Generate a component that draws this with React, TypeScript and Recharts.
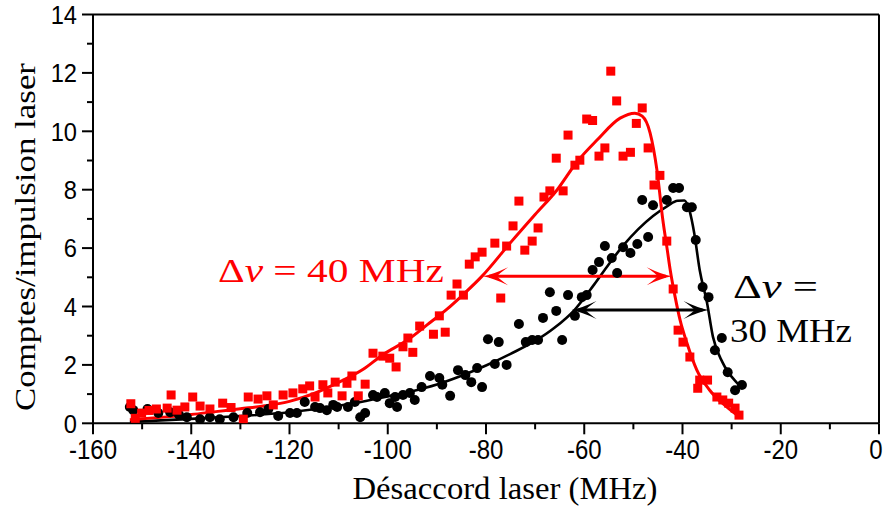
import React from 'react';
import { ComposedChart, Scatter, Line, XAxis, YAxis, ReferenceLine } from 'recharts';

// ---- Data ----
const xTicks = [-160, -150, -140, -130, -120, -110, -100, -90, -80, -70, -60, -50, -40, -30, -20, -10, 0];
const yTicks = [0, 1, 2, 3, 4, 5, 6, 7, 8, 9, 10, 11, 12, 13, 14];

const xTitle = 'Désaccord laser (MHz)';
const yTitle = 'Comptes/impulsion laser';

// red squares: detuning (MHz), counts per pulse
const redX = [-152.3, -151.4, -150.1, -148.6, -147.1, -144.9, -144.1, -142.9, -141.3, -139.7, -138.2, -136.2, -133.6, -131.9, -129.4, -128.4, -126.4, -124.6, -123.3, -121.3, -119.3, -117.3, -115.9, -114.8, -113.2, -112.2, -110.7, -109.3, -108.3, -107.3, -106.0, -104.6, -103.0, -101.0, -99.6, -98.3, -96.9, -95.9, -94.9, -93.5, -90.7, -89.5, -88.3, -87.1, -85.9, -84.6, -83.4, -82.2, -80.8, -78.2, -77.0, -75.8, -74.5, -73.3, -72.1, -70.6, -69.4, -68.2, -67.0, -65.7, -64.3, -63.3, -61.9, -60.9, -59.5, -58.3, -57.0, -55.8, -54.6, -53.4, -52.1, -50.6, -49.4, -48.2, -47.0, -45.8, -44.6, -43.2, -41.9, -40.9, -39.9, -38.5, -36.9, -36.5, -34.9, -33.0, -31.8, -30.6, -29.3, -28.5];
const redY = [0.67, 0.17, 0.35, 0.44, 0.49, 0.52, 0.97, 0.45, 0.56, 0.9, 0.59, 0.49, 0.69, 0.54, 0.14, 0.9, 0.83, 0.94, 0.63, 0.97, 1.04, 1.18, 1.28, 0.9, 1.32, 1.04, 1.41, 0.94, 1.37, 1.62, 0.94, 1.34, 2.4, 2.3, 2.23, 1.93, 2.62, 2.92, 2.43, 3.33, 3.05, 3.68, 3.12, 4.39, 4.77, 4.39, 5.45, 5.7, 5.86, 6.17, 4.29, 6.07, 6.76, 7.61, 5.93, 6.24, 6.69, 7.75, 7.96, 9.08, 7.96, 9.87, 8.84, 9.01, 10.42, 10.37, 9.15, 9.43, 12.06, 11.04, 9.15, 9.28, 10.27, 10.8, 9.43, 8.16, 8.49, 6.24, 4.6, 3.19, 2.78, 2.27, 1.2, 1.48, 1.48, 0.9, 0.8, 0.69, 0.52, 0.28];

// black circles
const blackX = [-152.5, -151.8, -148.9, -146.7, -144.3, -142.5, -140.9, -138.2, -136.2, -134.2, -131.4, -128.6, -126.0, -124.3, -122.3, -119.9, -118.5, -116.9, -114.8, -113.8, -112.4, -111.1, -110.3, -108.1, -106.7, -105.6, -104.6, -103.0, -102.2, -100.6, -99.6, -98.5, -98.1, -96.9, -95.5, -94.5, -93.1, -91.4, -89.5, -88.9, -87.3, -85.7, -84.2, -83.0, -81.8, -80.8, -79.6, -78.2, -77.4, -75.8, -73.3, -71.9, -70.6, -69.4, -68.4, -67.0, -65.7, -64.5, -63.3, -61.9, -60.5, -59.5, -58.3, -57.0, -55.8, -54.4, -53.3, -52.1, -50.6, -49.2, -48.2, -47.0, -46.0, -43.2, -41.9, -40.7, -39.1, -38.1, -37.3, -35.9, -34.7, -33.4, -32.0, -30.8, -29.3, -27.9];
const blackY = [0.56, 0.45, 0.49, 0.35, 0.38, 0.29, 0.21, 0.14, 0.21, 0.14, 0.21, 0.35, 0.38, 0.49, 0.25, 0.35, 0.35, 0.73, 0.56, 0.52, 0.45, 0.63, 0.56, 0.56, 0.73, 0.21, 0.35, 0.97, 0.9, 1.04, 0.69, 0.9, 0.56, 0.97, 1.04, 0.8, 1.24, 1.62, 1.55, 1.32, 0.94, 1.82, 1.65, 1.41, 1.89, 1.24, 2.88, 2.03, 2.78, 2.0, 3.4, 2.78, 2.85, 2.85, 3.61, 4.49, 3.85, 2.85, 4.39, 3.68, 4.32, 4.39, 5.25, 5.52, 6.07, 5.66, 5.15, 6.03, 5.83, 6.14, 7.65, 6.38, 7.47, 7.65, 8.06, 8.06, 7.4, 7.4, 6.28, 4.67, 4.32, 2.5, 2.92, 1.75, 1.13, 1.31];

// fitted curves
const redFitX = [-152.5, -145, -140, -135, -130, -125, -120, -115, -110, -105, -101, -96, -92, -88, -84.7, -80.8, -75.1, -70, -65.5, -61.5, -57.4, -52.7, -49.7, -48.2, -46.6, -45.2, -44, -43.1, -42.5, -41.5, -40.5, -39.1, -37.1, -34.5, -31, -28.1];
const redFitY = [0.12, 0.22, 0.3, 0.4, 0.5, 0.6, 0.75, 1.02, 1.4, 1.85, 2.35, 2.85, 3.37, 3.9, 4.4, 5.04, 6.17, 7.15, 8.0, 8.95, 9.7, 10.45, 10.62, 10.52, 9.95, 8.67, 6.96, 5.94, 5.25, 4.33, 3.54, 2.75, 1.83, 1.14, 0.56, 0.18];

const blackFitX = [-152.5, -140, -130, -120, -110, -100, -95, -90, -85, -80, -75, -70, -66, -62, -58, -55, -52, -49, -46, -43, -41, -39.6, -38.6, -37.6, -36.5, -35, -33.8, -31.8, -28.9, -28.2];
const blackFitY = [0.05, 0.15, 0.25, 0.38, 0.6, 0.92, 1.1, 1.33, 1.63, 1.98, 2.38, 2.82, 3.28, 3.88, 4.75, 5.45, 6.1, 6.65, 7.1, 7.45, 7.62, 7.63, 7.3, 6.5, 5.25, 4.12, 2.96, 2.07, 1.38, 1.25];

// FWHM arrows
const redArrowX = [-80.6, -42.2];
const redArrowY = 5.04;
const blackArrowX = [-62.6, -34.7];
const blackArrowY = 3.88;

const redLabel = '40 MHz';
const blackLabel = '30 MHz';

// ---- build series ----
const toPts = (xs: number[], ys: number[]) => xs.map((x, i) => ({ x, y: ys[i] }));
const redPts = toPts(redX, redY);
const blackPts = toPts(blackX, blackY);
const redFit = toPts(redFitX, redFitY);
const blackFit = toPts(blackFitX, blackFitY);

const RED = '#ff0000';
const SANS = "'Liberation Sans', Arial, sans-serif";
const SERIF = "'Liberation Serif', 'Times New Roman', serif";

const XTick = (props: any) => {
  const { x, y, payload } = props;
  const v = payload.value;
  const major = v % 20 === 0;
  const tx = v === 0 ? x - 3 : x;
  return (
    <g>
      <line x1={x} x2={x} y1={y} y2={y + (major ? 11 : 6)} stroke="#000" strokeWidth={2} />
      {major && (
        <text
          transform={`translate(${tx},${y + 36}) scale(0.96,1.14)`}
          textAnchor="middle"
          fontFamily={SANS}
          fontSize={25}
          fill="#000"
        >
          {String(v)}
        </text>
      )}
    </g>
  );
};

const YTick = (props: any) => {
  const { x, y, payload } = props;
  const v = payload.value;
  const major = v % 2 === 0;
  return (
    <g>
      <line x1={x} x2={x - (major ? 11 : 6)} y1={y} y2={y} stroke="#000" strokeWidth={2} />
      {major && (
        <text
          transform={`translate(${x - 16},${y + 9.2}) scale(1.03,1.12)`}
          textAnchor="end"
          fontFamily={SANS}
          fontSize={23}
          fill="#000"
        >
          {String(v)}
        </text>
      )}
    </g>
  );
};

const head = (t: number, y: number, dir: number, L: number, W: number) => {
  const p = (a: number) => t - dir * a;
  return `M ${t} ${y} Q ${p(0.4 * L)} ${y - 0.1 * W} ${p(L)} ${y - W / 2} Q ${p(0.62 * L)} ${y - 0.12 * W} ${p(0.55 * L)} ${y} Q ${p(0.62 * L)} ${y + 0.12 * W} ${p(L)} ${y + W / 2} Q ${p(0.4 * L)} ${y + 0.1 * W} ${t} ${y} Z`;
};

const arrowShape = (color: string) => (p: any) => {
  const { x1, y1, x2 } = p;
  const left = Math.min(x1, x2);
  const right = Math.max(x1, x2);
  const y = y1;
  return (
    <g>
      <line x1={left + 6} x2={right - 6} y1={y} y2={y} stroke={color} strokeWidth={3} />
      <path d={head(right, y, 1, 25, 18)} fill={color} />
      <path d={head(left, y, -1, 25, 18)} fill={color} />
    </g>
  );
};

const square = (p: any) => (
  <rect x={p.cx - 4.5} y={p.cy - 4.5} width={9} height={9} fill={RED} />
);
const circle = (p: any) => <circle cx={p.cx} cy={p.cy} r={5} fill="#000" />;

export default function App() {
  const W = 884;
  const H = 509;
  return (
    <div style={{ position: 'absolute', left: 0, top: 0, width: W, height: H }}>
      <ComposedChart width={W} height={H} margin={{ top: 14.5, right: 5, left: 0, bottom: 0 }}>
        <XAxis
          type="number"
          dataKey="x"
          domain={[-160, 0]}
          ticks={xTicks}
          interval={0}
          allowDataOverflow
          height={85.7}
          tickSize={0}
          tickMargin={0}
          tickLine={false}
          axisLine={{ stroke: '#000', strokeWidth: 2 }}
          tick={<XTick />}
        />
        <YAxis
          type="number"
          dataKey="y"
          domain={[0, 14]}
          ticks={yTicks}
          interval={0}
          allowDataOverflow
          width={93}
          tickSize={0}
          tickMargin={0}
          tickLine={false}
          axisLine={{ stroke: '#000', strokeWidth: 2 }}
          tick={<YTick />}
        />
        <ReferenceLine y={14} stroke="#000" strokeWidth={2} />
        <ReferenceLine x={0} stroke="#000" strokeWidth={2} />
        <Scatter data={blackPts} dataKey="y" shape={circle} isAnimationActive={false} />
        <Line data={blackFit} dataKey="y" type="monotone" stroke="#000" strokeWidth={2.6} dot={false} activeDot={false} isAnimationActive={false} />
        <Scatter data={redPts} dataKey="y" shape={square} isAnimationActive={false} />
        <Line data={redFit} dataKey="y" type="monotone" stroke={RED} strokeWidth={3} dot={false} activeDot={false} isAnimationActive={false} />
        <ReferenceLine
          segment={[{ x: redArrowX[0], y: redArrowY }, { x: redArrowX[1], y: redArrowY }]}
          shape={arrowShape(RED)}
        />
        <ReferenceLine
          segment={[{ x: blackArrowX[0], y: blackArrowY }, { x: blackArrowX[1], y: blackArrowY }]}
          shape={arrowShape('#000')}
        />
      </ComposedChart>
      <svg width={W} height={H} style={{ position: 'absolute', left: 0, top: 0, pointerEvents: 'none' }}>
        <text x={505} y={499} textAnchor="middle" fontFamily={SERIF} fontSize={31} textLength={305} lengthAdjust="spacingAndGlyphs" fill="#000">
          {xTitle}
        </text>
        <text transform="translate(35,237) rotate(-90)" textAnchor="middle" fontFamily={SERIF} fontSize={30} textLength={348} lengthAdjust="spacingAndGlyphs" fill="#000">
          {yTitle}
        </text>
        <text x={218} y={282} fontFamily={SERIF} fontSize={34} textLength={226} lengthAdjust="spacingAndGlyphs" fill={RED}>
          Δ<tspan fontStyle="italic">ν</tspan> = {redLabel}
        </text>
        <text x={733} y={298} fontFamily={SERIF} fontSize={34} textLength={85} lengthAdjust="spacingAndGlyphs" fill="#000">
          Δ<tspan fontStyle="italic">ν</tspan> =
        </text>
        <text x={730} y={342} fontFamily={SERIF} fontSize={34} textLength={122} lengthAdjust="spacingAndGlyphs" fill="#000">
          {blackLabel}
        </text>
      </svg>
    </div>
  );
}
